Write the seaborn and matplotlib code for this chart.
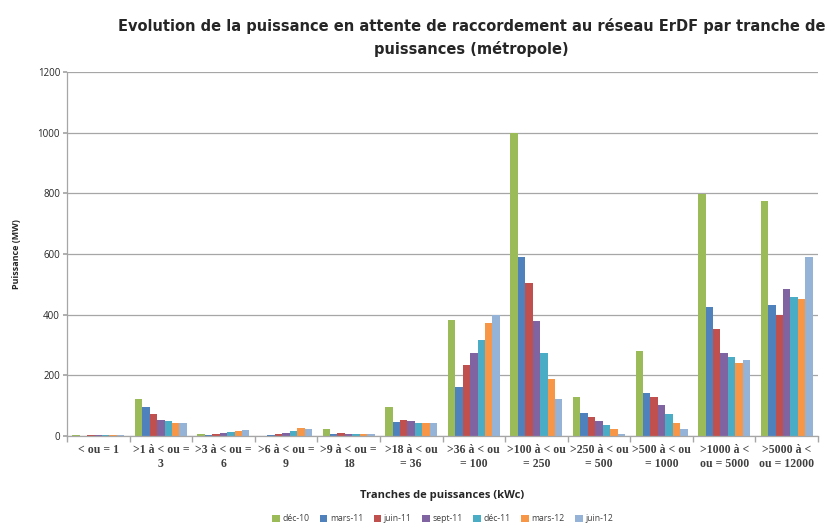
import numpy as np
import pandas as pd
import matplotlib
matplotlib.use("Agg")
import matplotlib.pyplot as plt
import seaborn as sns

# --- data (MW) ---
tranches = ["< ou = 1", ">1 à < ou =\n3", ">3 à < ou =\n6", ">6 à < ou =\n9",
            ">9 à < ou =\n18", ">18 à < ou\n= 36", ">36 à < ou\n= 100", ">100 à < ou\n= 250",
            ">250 à < ou\n= 500", ">500 à < ou\n= 1000", ">1000 à <\nou = 5000", ">5000 à <\nou = 12000"]
periodes = ["déc-10", "mars-11", "juin-11", "sept-11", "déc-11", "mars-12", "juin-12"]

dec10 = [3, 121, 8, 1, 22, 97, 382, 1000, 130, 281, 798, 776]
mars11 = [1, 97, 4, 2, 8, 45, 160, 591, 77, 143, 424, 433]
juin11 = [2, 72, 7, 7, 10, 53, 233, 505, 64, 128, 352, 400]
sept11 = [2, 54, 10, 9, 8, 49, 275, 380, 48, 101, 275, 484]
dec11 = [2, 51, 12, 15, 7, 44, 317, 275, 35, 73, 262, 457]
mars12 = [2, 44, 16, 26, 8, 42, 371, 189, 22, 42, 242, 453]
juin12 = [2, 43, 19, 24, 6, 42, 398, 123, 7, 22, 251, 591]

couleurs = ["#9BBB59", "#4F81BD", "#C0504D", "#8064A2", "#4BACC6", "#F79646", "#95B3D7"]

series = [dec10, mars11, juin11, sept11, dec11, mars12, juin12]
rows = []
for p, vals in zip(periodes, series):
    for t, v in zip(tranches, vals):
        rows.append({"tranche": t, "periode": p, "puissance": v})
df = pd.DataFrame(rows)

sns.set_theme(style="white")
plt.rcParams["font.family"] = ["Open Sans", "DejaVu Sans"]

fig = plt.figure(figsize=(8.38, 5.26), dpi=100)
ax = fig.add_axes([67 / 838, 1 - 436 / 526, 751 / 838, 364 / 526])

sns.barplot(data=df, x="tranche", y="puissance", hue="periode", order=tranches,
            hue_order=periodes, palette=couleurs, width=0.83, saturation=1,
            linewidth=0, ax=ax, legend=True)

ax.set_ylim(0, 1200)
ax.set_xlim(-0.5, len(tranches) - 0.5)
ax.set_yticks(np.arange(0, 1201, 200))
ax.yaxis.grid(True, color="#a6a6a6", lw=0.9)
ax.set_axisbelow(True)
for s in ["top", "right"]:
    ax.spines[s].set_visible(False)
for s in ["left", "bottom"]:
    ax.spines[s].set_color("#a6a6a6")
    ax.spines[s].set_linewidth(0.9)

ax.tick_params(axis="y", labelsize=7, length=3, color="#a6a6a6", left=True, pad=2)
ax.tick_params(axis="x", length=0, pad=6)
ax.set_xticks(np.arange(-0.5, len(tranches), 1), minor=True)
ax.tick_params(axis="x", which="minor", length=4, color="#a6a6a6", bottom=True)
for lab in ax.get_xticklabels():
    lab.set_family(["Liberation Serif", "DejaVu Serif"])
    lab.set_fontsize(8.5)
    lab.set_fontweight("bold")
    lab.set_color("#404040")

ax.set_xlabel("Tranches de puissances (kWc)", fontsize=8, fontweight="bold", labelpad=14)
ax.set_ylabel("Puissance (MW)", fontsize=6.5, fontweight="bold", labelpad=12)

fig.text(0.563, 0.965, "Evolution de la puissance en attente de raccordement au réseau ErDF par tranche de\npuissances (métropole)",
         ha="center", va="top", fontsize=10.5, fontweight="bold", linespacing=1.5,
         family=["Liberation Sans Narrow", "DejaVu Sans"])

ax.legend(loc="center", bbox_to_anchor=(0.5, -0.228), ncol=7, frameon=False,
          fontsize=6.2, handlelength=0.9, handleheight=0.9, columnspacing=1.2,
          handletextpad=0.3, labelcolor="#404040")

fig.savefig("out.png", dpi=100)
